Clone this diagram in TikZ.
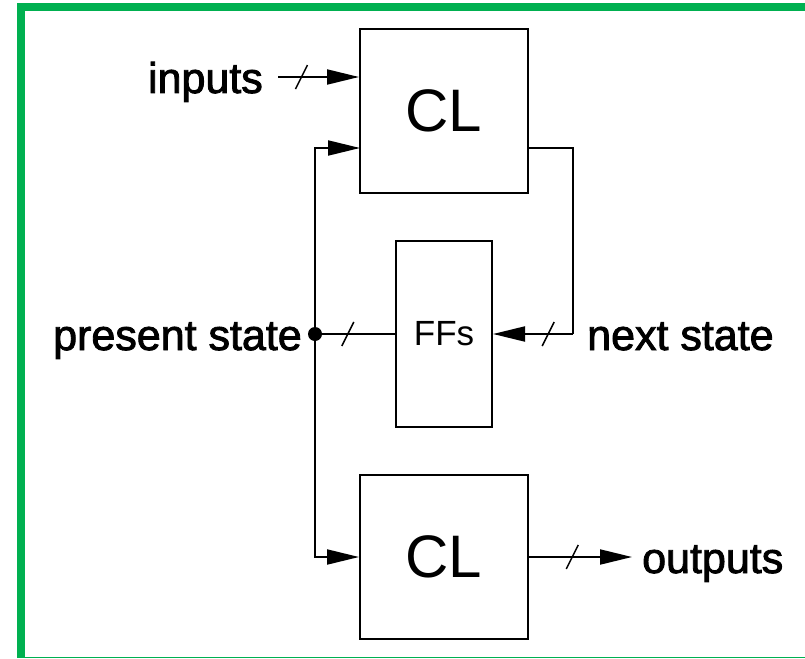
\documentclass[tikz,border=0pt]{standalone}
\usepackage{fontspec}
\setmainfont{Liberation Sans}
\newfontfamily\lblfont[FakeBold=2]{Liberation Sans}
\usetikzlibrary{arrows.meta}
\definecolor{framegreen}{HTML}{00B050}
\begin{document}
\begin{tikzpicture}[x=1pt,y=-1pt,
  blk/.style={draw, line width=2pt, inner sep=0pt, minimum width=168pt, minimum height=164pt,
              font=\fontsize{60}{60}\selectfont},
  ffblk/.style={draw, line width=2pt, inner sep=0pt, minimum width=96pt, minimum height=186pt,
              font=\fontsize{35}{35}\selectfont},
  wire/.style={line width=2pt},
  arr/.style={-{Triangle[length=32pt,width=15pt]}},
  lbl/.style={inner sep=0pt, font=\lblfont\fontsize{43}{43}\selectfont},
  bussl/.pic={\draw[line width=1.5pt, arrows=-] (-6,12) -- (6,-12);}
]
\useasboundingbox (0,0) rectangle (805,658);
% frame
\fill[framegreen] (17,3) rectangle (805,11);
\fill[framegreen] (17,3) rectangle (25,658);
\fill[framegreen] (17,656.5) rectangle (805,658);

% blocks
\node[blk] (cl1) at (444,111) {CL};
\node[ffblk] (ffs) at (444,334) {FFs};
\node[blk] (cl2) at (444,557) {CL};

% labels
\node[lbl, anchor=base east] (tin) at (263,93) {inputs};
\node[lbl, anchor=base east] (tps) at (302,350) {present state};
\node[lbl, anchor=base west] (tns) at (587,350) {next state};
\node[lbl, anchor=base west] (tout) at (642,573) {outputs};

% coordinates
\coordinate (inS) at (278,77);
\coordinate (j) at (315,334);
\coordinate (cl1in) at (360,148);
\coordinate (cl1out) at (528,148);
\coordinate (nsTop) at (573,148);
\coordinate (nsBot) at (573,334);
\coordinate (outE) at (632,557);

% connectors
\draw[wire,arr] (inS) -- pic[pos=0.29]{bussl} (inS -| cl1.west);
\draw[wire,arr] (j) |- (cl1in);
\draw[wire,arr] (j) |- (cl2.west);
\draw[wire] (j) -- pic[pos=0.41]{bussl} (ffs.west);
\draw[wire] (cl1out) -- (nsTop) -- (nsBot);
\draw[wire,arr] (nsBot) -- pic[pos=0.31]{bussl} (ffs.east);
\draw[wire,arr] (cl2.east) -- pic[pos=0.42]{bussl} (outE);
\node[circle, fill, inner sep=0pt, minimum size=14pt] (jd) at (j) {};
\end{tikzpicture}
\end{document}
